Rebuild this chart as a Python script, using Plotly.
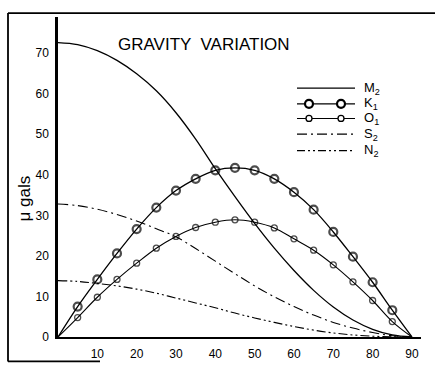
import plotly.graph_objects as go

# Latitude (degrees)
LAT = [0, 5, 10, 15, 20, 25, 30, 35, 40, 45, 50, 55, 60, 65, 70, 75, 80, 85, 90]

# Gravity variation amplitudes (micro-gals)
M2 = [72.6, 72.1, 70.6, 68.2, 64.9, 60.7, 55.3, 48.8, 41.5, 34.6, 28.0, 21.9, 16.4, 11.5, 7.4, 4.2, 1.9, 0.5, 0]
K1 = [0, 7.5, 14.2, 20.6, 26.6, 31.9, 36.1, 39.0, 41.1, 41.7, 41.1, 39.0, 35.7, 31.4, 25.9, 19.8, 13.5, 6.6, 0]
O1 = [0, 4.8, 9.8, 14.2, 18.2, 21.9, 24.8, 27.0, 28.3, 28.9, 28.3, 26.9, 24.2, 21.4, 17.8, 13.6, 9.0, 3.8, 0]
S2 = [32.8, 32.4, 31.5, 30.2, 28.6, 26.7, 24.7, 21.8, 18.7, 15.6, 12.6, 9.9, 7.5, 5.4, 3.6, 2.2, 1.1, 0.3, 0]
N2 = [13.9, 13.7, 13.2, 12.6, 11.8, 10.8, 9.6, 8.4, 7.2, 5.9, 4.7, 3.6, 2.6, 1.7, 1.0, 0.5, 0.2, 0.05, 0]

X_TICKS = [10, 20, 30, 40, 50, 60, 70, 80, 90]
Y_TICKS = [0, 10, 20, 30, 40, 50, 60, 70]

NAMES = ["M<sub>2</sub>", "K<sub>1</sub>", "O<sub>1</sub>", "S<sub>2</sub>", "N<sub>2</sub>"]
TITLE = "GRAVITY  VARIATION"
Y_TITLE = "μ gals"

FONT = "Liberation Sans, Arial, sans-serif"

# plot-area geometry (pixels) for paper-coordinate decorations
L, R, T, B = 58, 14, 17, 28
W, H = 435, 373
PW, PH = W - L - R, H - T - B


def px(x):
    return (x - L) / PW


def py(y):
    return (H - B - y) / PH


def msizes(s):
    return [0] + [s] * (len(LAT) - 2) + [0]


styles = [
    dict(line=dict(color="black", width=1.3, shape="spline"), mode="lines"),
    dict(line=dict(color="black", width=1.3, shape="spline"), mode="lines+markers",
         marker=dict(symbol="circle-open", size=msizes(8), color="black",
                     line=dict(width=2.2, color="black"))),
    dict(line=dict(color="black", width=1.1, shape="spline"), mode="lines+markers",
         marker=dict(symbol="circle-open", size=msizes(6), color="black",
                     line=dict(width=1.3, color="black"))),
    dict(line=dict(color="black", width=1.1, shape="spline", dash="10px,4px,2px,4px"), mode="lines"),
    dict(line=dict(color="black", width=1.1, shape="spline", dash="9px,3px,2px,3px,2px,3px"), mode="lines"),
]
series = [M2, K1, O1, S2, N2]

fig = go.Figure()
for name, ys, st in zip(NAMES, series, styles):
    fig.add_trace(go.Scatter(x=LAT, y=ys, name=name, showlegend=False, **st))

fig.update_xaxes(range=[0, 92.3], tickvals=X_TICKS, showgrid=False, zeroline=False,
                 showline=True, linecolor="black", linewidth=2, ticks="",
                 tickfont=dict(family=FONT, size=12, color="black"), ticklabelstandoff=5)
fig.update_yaxes(range=[0, 78.9], tickvals=Y_TICKS, showgrid=False, zeroline=False,
                 showline=True, linecolor="black", linewidth=2.5, ticks="",
                 tickfont=dict(family=FONT, size=12, color="black"), ticklabelstandoff=4)

fig.add_annotation(text=TITLE, xref="paper", yref="paper", x=px(204), y=py(45),
                   xanchor="center", yanchor="middle",
                   showarrow=False, font=dict(family=FONT, size=17, color="black"))
fig.add_annotation(text=Y_TITLE, xref="paper", yref="paper", x=px(24), y=py(203),
                   xanchor="center", yanchor="middle", textangle=-90, showarrow=False,
                   font=dict(family=FONT, size=17, color="black"))

# hand-drawn style legend: line keys with two markers, labels to the right
rows_y = [90, 106, 121, 137, 154]
dashes = ["solid", "solid", "solid", "10px,4px,2px,4px", "8px,3px,2px,3px,2px,3px"]
key_w = [1.2, 1.2, 1.1, 1.2, 1.2]
for i, (name, yy) in enumerate(zip(NAMES, rows_y)):
    fig.add_shape(type="line", xref="paper", yref="paper", x0=px(297), x1=px(355),
                  y0=py(yy), y1=py(yy), line=dict(color="black", width=key_w[i], dash=dashes[i]))
    if i in (1, 2):
        r = 4 if i == 1 else 3
        lw = 2.2 if i == 1 else 1.3
        for cx in (309, 341):
            fig.add_shape(type="circle", xref="paper", yref="paper", xsizemode="pixel",
                          ysizemode="pixel", xanchor=px(cx), yanchor=py(yy),
                          x0=-r, x1=r, y0=-r, y1=r, fillcolor="white",
                          line=dict(color="black", width=lw))
    fig.add_annotation(text=name, xref="paper", yref="paper", x=px(362), y=py(yy),
                       xanchor="left", yanchor="middle", showarrow=False,
                       font=dict(family=FONT, size=13, color="black"))

# outer frame (top, left, partial bottom)
frame = dict(type="line", xref="paper", yref="paper", line=dict(color="black", width=1.8))
fig.add_shape(**frame, x0=px(8), x1=px(435), y0=py(13), y1=py(13))
fig.add_shape(**frame, x0=px(8), x1=px(8), y0=py(13), y1=py(370))
fig.add_shape(**frame, x0=px(8), x1=px(100), y0=py(370), y1=py(370))

fig.update_layout(
    width=W, height=H,
    margin=dict(l=L, r=R, t=T, b=B),
    paper_bgcolor="white", plot_bgcolor="white",
    font=dict(family=FONT, color="black"),
    showlegend=False,
)

POST = (
    "var d=document.documentElement, b=document.body;"
    "d.style.margin='0'; d.style.padding='0'; d.style.overflow='hidden';"
    "b.style.margin='0'; b.style.padding='0'; b.style.overflow='hidden';"
    "window.scrollTo(0,0);"
)

fig.write_html("out.html", config={"displayModeBar": False}, post_script=POST)
